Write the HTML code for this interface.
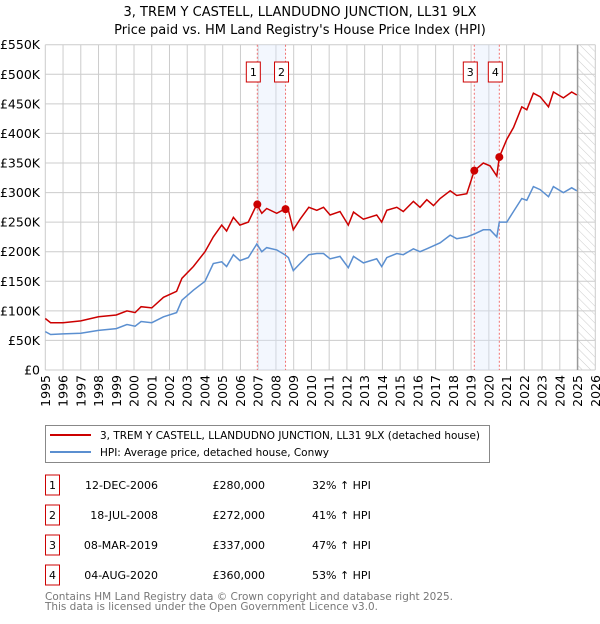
<!DOCTYPE html>
<html><head><meta charset="utf-8"><style>
body{margin:0;background:#fff;font-family:"DejaVu Sans","Liberation Sans",sans-serif;}
svg text{font-family:"DejaVu Sans","Liberation Sans",sans-serif;}
</style></head><body>
<svg id="chart" width="600" height="620" xmlns="http://www.w3.org/2000/svg">
<defs><pattern id="hatch" width="6" height="6" patternUnits="userSpaceOnUse" patternTransform="rotate(-45)"><line x1="0" y1="0" x2="0" y2="6" stroke="#ccc" stroke-width="1"/></pattern></defs>
<text x="300" y="16" text-anchor="middle" font-size="13">3, TREM Y CASTELL, LLANDUDNO JUNCTION, LL31 9LX</text>
<text x="300" y="34" text-anchor="middle" font-size="13">Price paid vs. HM Land Registry's House Price Index (HPI)</text>
<g id="grid"></g><g id="bands"></g><g id="series"></g><g id="axes"></g>
<rect x="45.5" y="425.5" width="444" height="37" fill="#fff" stroke="#888"/>
<line x1="50" y1="435" x2="91" y2="435" stroke="#cc0000" stroke-width="2"/>
<text x="100" y="439" font-size="11" textLength="380" lengthAdjust="spacingAndGlyphs">3, TREM Y CASTELL, LLANDUDNO JUNCTION, LL31 9LX (detached house)</text>
<line x1="50" y1="452" x2="91" y2="452" stroke="#5b8fd0" stroke-width="2"/>
<text x="100" y="456" font-size="11" textLength="229" lengthAdjust="spacingAndGlyphs">HPI: Average price, detached house, Conwy</text>
<g id="table" font-size="11"></g>
<text x="45" y="600" font-size="11" fill="#777" textLength="408" lengthAdjust="spacingAndGlyphs">Contains HM Land Registry data © Crown copyright and database right 2025.</text>
<text x="45" y="610" font-size="11" fill="#777" textLength="333" lengthAdjust="spacingAndGlyphs">This data is licensed under the Open Government Licence v3.0.</text>
</svg>
<script>
const years=[1995.0,1995.3,1996.0,1997.0,1998.0,1999.0,1999.6,2000.06,2000.4,2001.0,2001.66,2002.4,2002.7,2003.35,2004.0,2004.47,2004.94,2005.22,2005.6,2005.97,2006.44,2006.92,2007.2,2007.48,2008.04,2008.5,2008.7,2008.98,2009.36,2009.85,2010.3,2010.68,2011.05,2011.61,2012.08,2012.37,2012.93,2013.68,2013.96,2014.25,2014.81,2015.18,2015.75,2016.12,2016.5,2016.88,2017.25,2017.82,2018.19,2018.76,2019.18,2019.69,2020.07,2020.45,2020.59,2021.01,2021.39,2021.86,2022.14,2022.51,2022.89,2023.36,2023.64,2024.2,2024.67,2024.96];
const hpi=[65,60,61,62,67,70,77,74,82,80,90,97,118,135,150,180,183,175,195,185,190,213,200,207,203,195,190,168,180,195,197,197,188,192,173,192,181,188,175,190,197,195,205,200,205,210,215,228,222,225,230,237,237,225,250,250,268,290,287,310,305,293,310,300,308,303];
const price=[87,80,80,83,90,93,100,97,107,105,123,133,155,175,200,225,245,235,258,245,250,280,265,273,265,272,270,237,255,275,270,275,262,268,245,267,255,262,250,270,275,268,285,275,288,278,290,303,295,298,337,350,345,328,360,390,410,445,440,468,462,445,470,460,470,465];
const saleYears=[2006.95,2008.54,2019.18,2020.59];
const salePrices=[280,272,337,360];
const saleLabels=["1","2","3","4"];
const saleDates=["12-DEC-2006","18-JUL-2008","08-MAR-2019","04-AUG-2020"];
const salePriceText=["£280,000","£272,000","£337,000","£360,000"];
const salePct=["32% ↑ HPI","41% ↑ HPI","47% ↑ HPI","53% ↑ HPI"];
const yTicks=[0,50,100,150,200,250,300,350,400,450,500,550];
const yTickLabels=["£0","£50K","£100K","£150K","£200K","£250K","£300K","£350K","£400K","£450K","£500K","£550K"];
const xTicks=[1995,1996,1997,1998,1999,2000,2001,2002,2003,2004,2005,2006,2007,2008,2009,2010,2011,2012,2013,2014,2015,2016,2017,2018,2019,2020,2021,2022,2023,2024,2025,2026];
const NS="http://www.w3.org/2000/svg";
const X0=45.3,X1=595.3,Y0=370,Y1=44.7;
const xs=y=>X0+(y-1995)/31*(X1-X0);
const ys=v=>Y0-v/550*(Y0-Y1);
function mk(p,t,a){const e=document.createElementNS(NS,t);for(const k in a)e.setAttribute(k,a[k]);p.appendChild(e);return e;}
const g=document.getElementById('grid'),b=document.getElementById('bands'),s=document.getElementById('series'),ax=document.getElementById('axes');
yTicks.forEach((v,i)=>{const l=mk(g,'line',{x1:X0,x2:X1,y1:ys(v),y2:ys(v),stroke:'#ccc'});


const t=mk(ax,'text',{x:40,y:ys(v)+4.5,'text-anchor':'end','font-size':'12.5'});t.textContent=yTickLabels[i];

});
xTicks.forEach(y=>{const l=mk(g,'line',{x1:xs(y),x2:xs(y),y1:Y1,y2:Y0,stroke:'#ccc'});


const t=mk(ax,'text',{x:0,y:0,'font-size':'12.5','text-anchor':'end',transform:`translate(${xs(y)+4.5},375) rotate(-90)`});t.textContent=y;

});
const hx=xs(2025.0);
const h=mk(b,'rect',{x:hx,y:Y1,width:X1-hx,height:Y0-Y1,fill:'url(#hatch)'});


mk(b,'line',{x1:hx,x2:hx,y1:Y1,y2:Y0,stroke:'#999','stroke-width':1.5});
for(let i=0;i<4;i+=2){const r=mk(b,'rect',{x:xs(saleYears[i]),y:Y1,width:xs(saleYears[i+1])-xs(saleYears[i]),height:Y0-Y1,fill:'#dde8fb','fill-opacity':0.35});

}
saleYears.forEach((y,i)=>{const l=mk(b,'line',{x1:xs(y),x2:xs(y),y1:Y1,y2:Y0,stroke:'#f07070','stroke-dasharray':'2,2'});


const bx=xs(y)-4;const r=mk(b,'rect',{x:bx-7,y:62,width:14,height:20,fill:'#fff',stroke:'#cc0000'});


const t=mk(b,'text',{x:bx,y:76,'text-anchor':'middle','font-size':'11'});t.textContent=saleLabels[i];});
const d=arr=>arr.map((v,i)=>(i?'L':'M')+xs(years[i]).toFixed(1)+' '+ys(v).toFixed(1)).join(' ');
const p1=mk(s,'path',{d:d(hpi),fill:'none',stroke:'#5b8fd0','stroke-width':1.5});


const p2=mk(s,'path',{d:d(price),fill:'none',stroke:'#cc0000','stroke-width':1.5});


saleYears.forEach((y,i)=>{const c=mk(s,'circle',{cx:xs(y),cy:ys(salePrices[i]),r:4,fill:'#cc0000'});

});
const tb=document.getElementById('table');
saleLabels.forEach((lab,i)=>{const yy=483+30*i;
const r=mk(tb,'rect',{x:45.5,y:yy-8,width:14,height:20,fill:'#fff',stroke:'#cc0000'});


const t0=mk(tb,'text',{x:52.5,y:yy+6,'text-anchor':'middle'});t0.textContent=lab;
const t1=mk(tb,'text',{x:158,y:yy+6,'text-anchor':'end'});t1.textContent=saleDates[i];


const t2=mk(tb,'text',{x:265,y:yy+6,'text-anchor':'end'});t2.textContent=salePriceText[i];


const t3=mk(tb,'text',{x:312,y:yy+6});t3.textContent=salePct[i];

});
</script>
</body></html>
